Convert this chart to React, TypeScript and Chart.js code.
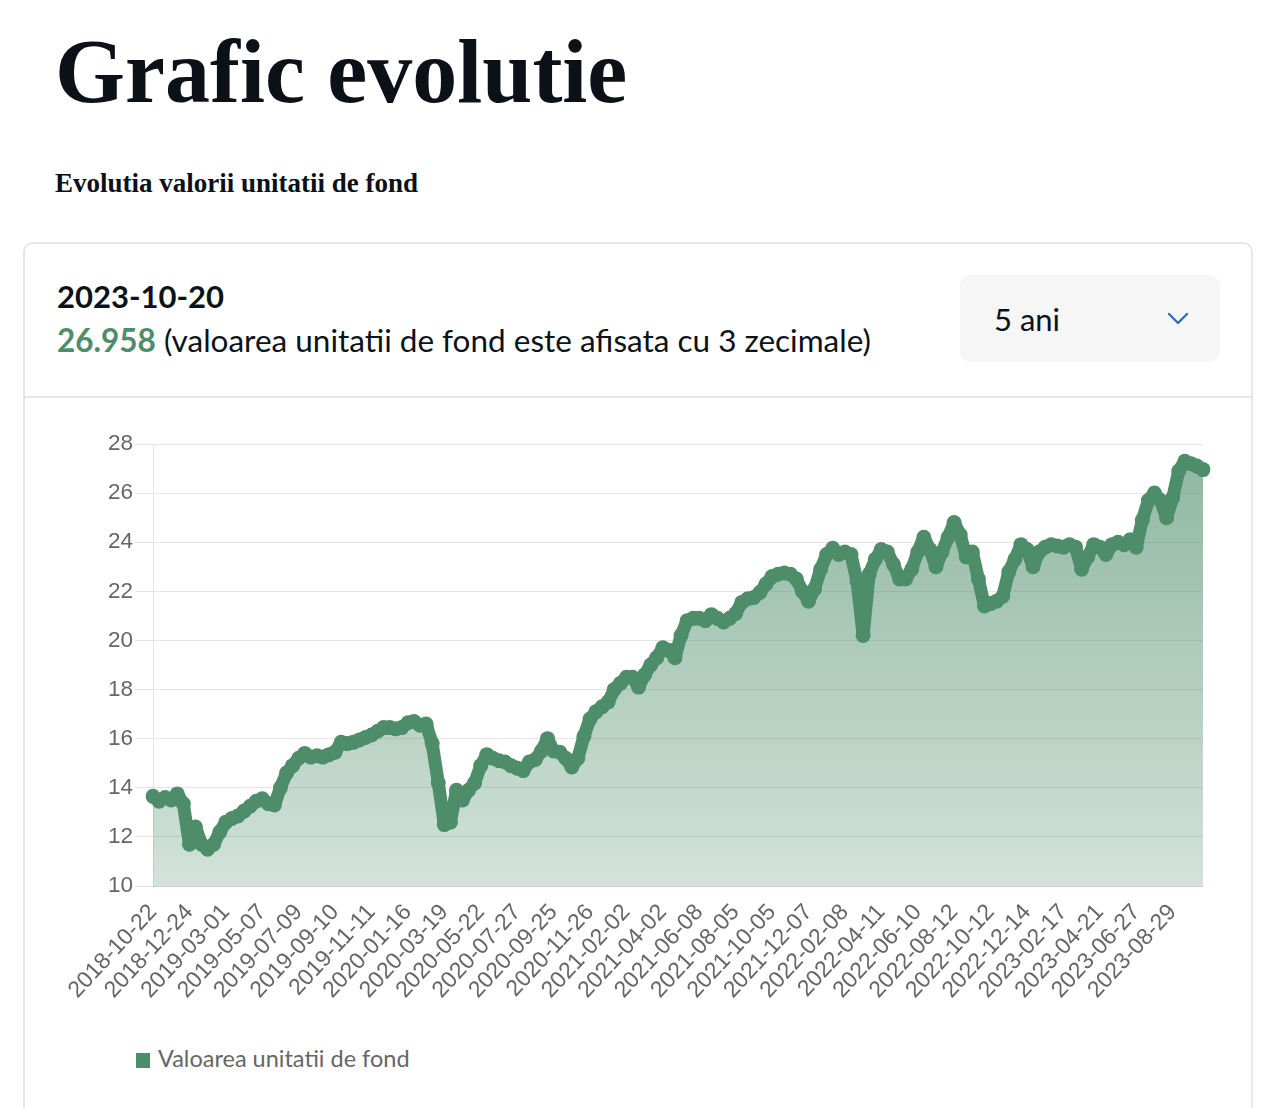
import React, { useEffect, useRef } from "react";
import { Chart, registerables } from "chart.js";

Chart.register(...registerables);

const PAGE_TITLE = "Grafic evolutie";
const PAGE_SUBTITLE = "Evolutia valorii unitatii de fond";
const LAST_DATE = "2023-10-20";
const LAST_VALUE = "26.958";
const LAST_NOTE = "(valoarea unitatii de fond este afisata cu 3 zecimale)";
const PERIOD = "5 ani";
const SERIES_LABEL = "Valoarea unitatii de fond";

const Y_MIN = 10;
const Y_MAX = 28;
const Y_STEP = 2;

const TICK_DATES = [
  "2018-10-22", "2018-12-24", "2019-03-01", "2019-05-07", "2019-07-09", "2019-09-10",
  "2019-11-11", "2020-01-16", "2020-03-19", "2020-05-22", "2020-07-27", "2020-09-25",
  "2020-11-26", "2021-02-02", "2021-04-02", "2021-06-08", "2021-08-05", "2021-10-05",
  "2021-12-07", "2022-02-08", "2022-04-11", "2022-06-10", "2022-08-12", "2022-10-12",
  "2022-12-14", "2023-02-17", "2023-04-21", "2023-06-27", "2023-08-29",
];

const DATES = [
  "2018-10-22", "2018-11-01", "2018-11-12", "2018-11-22", "2018-12-03", "2018-12-13",
  "2018-12-24", "2019-01-07", "2019-01-17", "2019-01-28", "2019-02-07", "2019-02-19",
  "2019-03-01", "2019-03-12", "2019-03-22", "2019-04-02", "2019-04-12", "2019-04-25",
  "2019-05-07", "2019-05-17", "2019-05-28", "2019-06-07", "2019-06-19", "2019-06-28",
  "2019-07-09", "2019-07-19", "2019-07-30", "2019-08-09", "2019-08-20", "2019-08-30",
  "2019-09-10", "2019-09-20", "2019-10-01", "2019-10-11", "2019-10-22", "2019-11-01",
  "2019-11-11", "2019-11-21", "2019-12-03", "2019-12-13", "2019-12-24", "2020-01-07",
  "2020-01-16", "2020-01-27", "2020-02-06", "2020-02-17", "2020-02-27", "2020-03-09",
  "2020-03-19", "2020-03-30", "2020-04-09", "2020-04-22", "2020-05-04", "2020-05-13",
  "2020-05-22", "2020-06-03", "2020-06-15", "2020-06-25", "2020-07-06", "2020-07-16",
  "2020-07-27", "2020-08-06", "2020-08-17", "2020-08-27", "2020-09-07", "2020-09-16",
  "2020-09-25", "2020-10-06", "2020-10-16", "2020-10-27", "2020-11-06", "2020-11-17",
  "2020-11-26", "2020-12-08", "2020-12-18", "2021-01-04", "2021-01-13", "2021-01-22",
  "2021-02-02", "2021-02-11", "2021-02-22", "2021-03-04", "2021-03-15", "2021-03-24",
  "2021-04-02", "2021-04-14", "2021-04-26", "2021-05-10", "2021-05-19", "2021-05-28",
  "2021-06-08", "2021-06-17", "2021-06-28", "2021-07-07", "2021-07-16", "2021-07-27",
  "2021-08-05", "2021-08-16", "2021-08-26", "2021-09-06", "2021-09-15", "2021-09-24",
  "2021-10-05", "2021-10-15", "2021-10-26", "2021-11-05", "2021-11-16", "2021-11-26",
  "2021-12-07", "2021-12-17", "2021-12-29", "2022-01-10", "2022-01-19", "2022-01-28",
  "2022-02-08", "2022-02-18", "2022-02-28", "2022-03-07", "2022-03-21", "2022-03-31",
  "2022-04-11", "2022-04-21", "2022-05-04", "2022-05-13", "2022-05-24", "2022-06-02",
  "2022-06-10", "2022-06-21", "2022-07-01", "2022-07-12", "2022-07-22", "2022-08-02",
  "2022-08-12", "2022-08-23", "2022-09-02", "2022-09-13", "2022-09-22", "2022-10-03",
  "2022-10-12", "2022-10-21", "2022-11-01", "2022-11-11", "2022-11-22", "2022-12-05",
  "2022-12-14", "2022-12-23", "2023-01-06", "2023-01-18", "2023-01-27", "2023-02-08",
  "2023-02-17", "2023-02-28", "2023-03-10", "2023-03-21", "2023-03-31", "2023-04-11",
  "2023-04-21", "2023-05-04", "2023-05-15", "2023-05-24", "2023-06-06", "2023-06-15",
  "2023-06-27", "2023-07-07", "2023-07-18", "2023-07-28", "2023-08-08", "2023-08-18",
  "2023-08-29", "2023-09-08", "2023-09-19", "2023-09-29", "2023-10-10", "2023-10-20",
];

const VALUES = [
  13.65, 13.45, 13.6, 13.5, 13.75, 13.35,
  11.7, 12.4, 11.7, 11.5, 11.7, 12.2,
  12.6, 12.75, 12.85, 13.05, 13.25, 13.45,
  13.55, 13.35, 13.3, 14.0, 14.6, 14.9,
  15.2, 15.4, 15.25, 15.3, 15.25, 15.35,
  15.45, 15.85, 15.8, 15.85, 15.95, 16.05,
  16.15, 16.3, 16.45, 16.45, 16.4, 16.45,
  16.65, 16.7, 16.55, 16.6, 15.8, 14.2,
  12.5, 12.6, 13.9, 13.5, 13.9, 14.2,
  14.9, 15.35, 15.2, 15.1, 15.05, 14.9,
  14.8, 14.7, 15.05, 15.15, 15.5, 16.0,
  15.5, 15.45, 15.2, 14.85, 15.2, 16.1,
  16.8, 17.1, 17.3, 17.5, 18.0, 18.25,
  18.5, 18.5, 18.1, 18.6, 19.0, 19.3,
  19.7, 19.6, 19.3, 20.2, 20.8, 20.9,
  20.9, 20.8, 21.05, 20.9, 20.75, 20.9,
  21.1, 21.55, 21.7, 21.75, 21.95, 22.3,
  22.6, 22.7, 22.75, 22.7, 22.5, 22.0,
  21.6, 22.1, 22.9, 23.5, 23.75, 23.5,
  23.6, 23.5, 22.4, 20.2, 22.7, 23.3,
  23.7, 23.6, 23.1, 22.5, 22.5, 22.9,
  23.6, 24.2, 23.7, 23.0, 23.6, 24.2,
  24.8, 24.3, 23.4, 23.6, 22.5, 21.4,
  21.5, 21.6, 21.8, 22.8, 23.3, 23.9,
  23.7, 23.0, 23.6, 23.8, 23.9, 23.85,
  23.8, 23.9, 23.8, 22.9, 23.4, 23.9,
  23.8, 23.5, 23.9, 24.0, 23.9, 24.1,
  23.8, 24.9, 25.7, 26.0, 25.7, 25.0,
  25.8, 26.9, 27.3, 27.2, 27.1, 26.958,
];

const GREEN = "rgb(78,141,106)";
const TICK_FONT = "'Liberation Sans', Arial, Helvetica, sans-serif";
const UI_FONT = "Lato, 'Noto Sans', sans-serif";
const SERIF = "'Liberation Serif', 'Times New Roman', serif";

export default function App() {
  const canvasRef = useRef<HTMLCanvasElement | null>(null);

  useEffect(() => {
    const canvas = canvasRef.current;
    if (!canvas) return;
    const tickSet = new Set(TICK_DATES);
    const chart = new Chart(canvas, {
      type: "line",
      data: {
        labels: DATES,
        datasets: [
          {
            label: SERIES_LABEL,
            data: VALUES,
            borderColor: GREEN,
            borderWidth: 13,
            borderJoinStyle: "round",
            borderCapStyle: "round",
            backgroundColor: (ctx: any) => {
              const c = ctx.chart;
              const a = c.chartArea;
              if (!a) return "rgba(78,141,106,0.4)";
              const g = c.ctx.createLinearGradient(0, a.top, 0, a.bottom);
              g.addColorStop(0, "rgba(78,141,106,0.64)");
              g.addColorStop(1, "rgba(78,141,106,0.25)");
              return g;
            },
            fill: "start",
            tension: 0,
            pointRadius: 7.5,
            pointBackgroundColor: GREEN,
            pointBorderColor: GREEN,
            pointBorderWidth: 0,
            pointHoverRadius: 7.5,
          },
        ],
      },
      options: {
        responsive: false,
        maintainAspectRatio: false,
        animation: false,
        devicePixelRatio: 1,
        layout: { padding: { top: 20, right: 10, left: 0, bottom: 0 } },
        plugins: {
          legend: { display: false },
          tooltip: { enabled: false },
        },
        scales: {
          x: {
            grid: { display: false },
            border: { display: true, color: "rgba(0,0,0,0.1)" },
            ticks: {
              autoSkip: false,
              minRotation: 47,
              maxRotation: 47,
              padding: 5,
              color: "#666",
              font: { family: TICK_FONT, size: 23 },
              callback: function (this: any, value: any, index: number) {
                const l = DATES[index];
                return tickSet.has(l) ? l : null;
              },
            },
            afterFit: (s: any) => {
              s.height = 130;
            },
          },
          y: {
            min: Y_MIN,
            max: Y_MAX,
            grid: { color: "rgba(0,0,0,0.1)", tickLength: 18 },
            border: { display: true, color: "rgba(0,0,0,0.1)" },
            ticks: {
              stepSize: Y_STEP,
              padding: 2,
              color: "#666",
              font: { family: TICK_FONT, size: 22.5 },
            },
            afterFit: (s: any) => {
              s.width = 113;
            },
          },
        },
      },
    } as any);
    return () => chart.destroy();
  }, []);

  const abs = (o: React.CSSProperties): React.CSSProperties => ({ position: "absolute", margin: 0, ...o });

  return (
    <div style={{ position: "absolute", left: 0, top: 0, width: 1262, height: 1108, overflow: "hidden", background: "#fff" }}>
      <div style={abs({ left: 55, top: 27, fontFamily: SERIF, fontWeight: 700, fontSize: 90, lineHeight: "90px", color: "#0b1117", whiteSpace: "nowrap" })}>
        {PAGE_TITLE}
      </div>
      <div style={abs({ left: 55, top: 170, fontFamily: SERIF, fontWeight: 700, fontSize: 27, lineHeight: "27px", color: "#0b1117", whiteSpace: "nowrap" })}>
        {PAGE_SUBTITLE}
      </div>
      <div style={abs({ left: 23, top: 242, width: 1230, height: 920, border: "2px solid #e6e6e6", borderRadius: 10, boxSizing: "border-box" })} />
      <div style={abs({ left: 24, top: 396, width: 1228, height: 2, background: "#e6e6e6" })} />
      <div style={abs({ left: 57, top: 281, fontFamily: UI_FONT, fontWeight: 700, fontSize: 31, lineHeight: "31px", color: "#0b1218", whiteSpace: "nowrap" })}>
        {LAST_DATE}
      </div>
      <div style={abs({ left: 57, top: 325, fontFamily: UI_FONT, fontSize: 31.5, lineHeight: "31.5px", color: "#0b1218", whiteSpace: "nowrap" })}>
        <span style={{ color: GREEN, fontWeight: 700 }}>{LAST_VALUE}</span> {LAST_NOTE}
      </div>
      <div style={abs({ left: 960, top: 275, width: 260, height: 87, background: "#f6f6f6", borderRadius: 10 })} />
      <div style={abs({ left: 994, top: 304, fontFamily: UI_FONT, fontSize: 31, lineHeight: "31px", color: "#0b1218", whiteSpace: "nowrap" })}>
        {PERIOD}
      </div>
      <svg style={abs({ left: 1166, top: 310, width: 24, height: 18 })} width={24} height={18}>
        <polyline points="3,4 12,13 21,4" fill="none" stroke="#2f6fb7" strokeWidth={2.4} strokeLinecap="round" strokeLinejoin="round" />
      </svg>
      <canvas ref={canvasRef} width={1173} height={592} style={abs({ left: 40, top: 424, width: 1173, height: 592 })} />
      <div style={abs({ left: 136, top: 1053, width: 14, height: 15, background: GREEN })} />
      <div style={abs({ left: 158, top: 1047, fontFamily: UI_FONT, fontSize: 23.5, lineHeight: "23.5px", color: "#666", whiteSpace: "nowrap" })}>
        {SERIES_LABEL}
      </div>
    </div>
  );
}
